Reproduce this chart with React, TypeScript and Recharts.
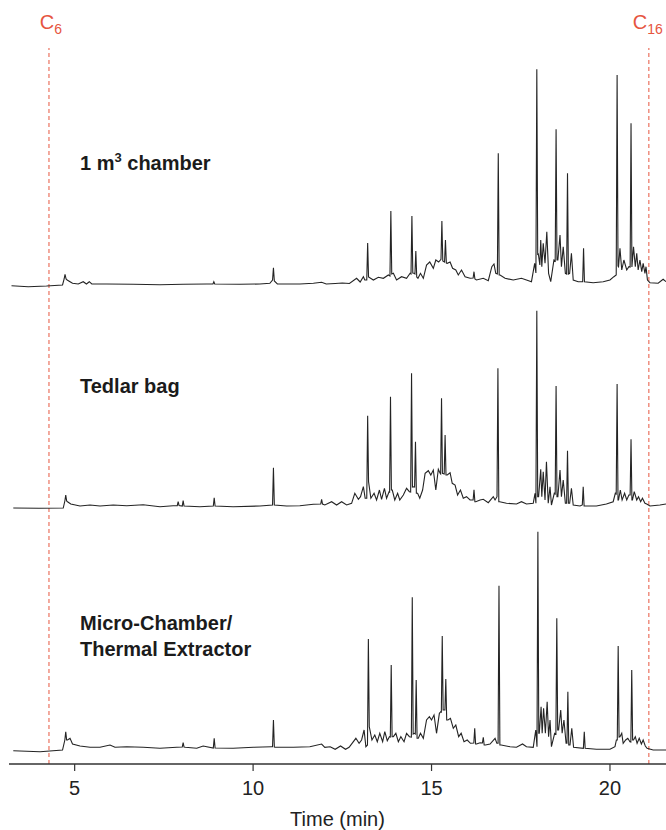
import { ComposedChart, Line, XAxis, YAxis, ReferenceLine } from 'recharts'

const FONT = "'Liberation Sans', Arial, sans-serif"
const TRACE_COLOR = '#242424'
const MARKER_RED = '#e6553f'

const timeTicks = [5, 10, 15, 20]

// retention times of the n-alkane markers (min)
const c6Time = 4.28
const c16Time = 21.09

// [time (min), detector response], one list per sampling method
const chamberTrace = [
  [3.23, -0.7], [3.7, -1.7], [4.21, -1], [4.66, 0], [4.705, 6], [4.73, 10.7], [4.76, 6], [4.79, 5],
  [4.87, 3.3], [4.94, 1.7], [5.1, 1], [5.24, 3.3], [5.33, 1], [5.41, 3.3], [5.48, 1], [5.9, 1],
  [6.64, 0.7], [7.39, 0.3], [8.04, 0.7], [8.7, 1], [8.875, 1], [8.9, 3.3], [8.925, 1], [9.63, 0.7],
  [10.19, 1], [10.47, 1.7], [10.545, 5], [10.57, 17.3], [10.595, 4], [10.68, 1], [11.31, 1],
  [11.69, 1.7], [11.92, 2.7], [12.05, 1], [12.3, 1.5], [12.5, 2], [12.7, 1.5], [12.9, 6.7], [13.0, 3],
  [13.09, 8.3], [13.13, 5], [13.185, 5], [13.21, 42], [13.235, 8], [13.37, 5], [13.51, 7.7],
  [13.65, 6.7], [13.79, 10], [13.835, 9], [13.86, 74], [13.885, 11], [13.93, 11.7], [14.02, 5],
  [14.16, 8.3], [14.3, 6.7], [14.4, 11.7], [14.425, 11], [14.45, 69], [14.475, 12], [14.51, 11.7],
  [14.535, 11], [14.56, 34], [14.585, 8], [14.62, 6.7], [14.69, 11.7], [14.77, 6.7], [14.86, 20],
  [14.95, 23], [15.05, 16.7], [15.12, 25], [15.2, 23], [15.265, 25.7], [15.29, 64], [15.315, 24],
  [15.365, 23], [15.39, 45], [15.415, 22], [15.44, 21.7], [15.52, 23], [15.59, 16.7], [15.68, 15],
  [15.75, 10], [15.84, 15], [15.94, 8.3], [16.08, 6.7], [16.165, 7], [16.19, 13.3], [16.215, 6],
  [16.26, 5], [16.45, 6.7], [16.59, 4.3], [16.69, 18.3], [16.75, 21], [16.8, 11.7], [16.845, 11],
  [16.87, 131.7], [16.895, 10], [16.92, 10], [17.06, 6.7], [17.29, 5], [17.52, 6.7], [17.66, 5],
  [17.8, 3.3], [17.89, 21.7], [17.925, 12], [17.95, 215.7], [17.975, 30], [17.99, 31.7],
  [18.035, 20], [18.06, 45], [18.09, 18.3], [18.13, 41.7], [18.18, 21.7], [18.23, 53.3],
  [18.28, 11.7], [18.34, 3.3], [18.43, 25], [18.465, 24], [18.49, 155.7], [18.515, 25], [18.54, 25],
  [18.6, 50], [18.64, 18.3], [18.69, 38.3], [18.75, 11.7], [18.785, 11], [18.81, 111.7],
  [18.835, 11], [18.87, 11.7], [18.92, 31.7], [18.97, 5], [19.11, 3.3], [19.235, 3.3], [19.26, 36.7],
  [19.285, 3.3], [19.53, 2.3], [19.81, 3.3], [20.0, 5], [20.11, 8.3], [20.175, 10], [20.2, 210],
  [20.225, 19], [20.24, 18.3], [20.28, 36.7], [20.33, 15], [20.39, 25], [20.47, 15], [20.53, 18.3],
  [20.565, 18], [20.59, 161.7], [20.615, 18], [20.66, 38.3], [20.71, 18.3], [20.75, 31.7],
  [20.79, 15], [20.84, 25], [20.89, 13.3], [20.93, 21.7], [20.98, 11.7], [21.01, 18.3], [21.05, 5],
  [21.12, 2.3], [21.35, 1.7], [21.49, 5.7], [21.57, 3.3]
]

const tedlarTrace = [
  [3.28, -1], [4.0, -1.3], [4.68, -1], [4.725, 6], [4.75, 12], [4.775, 6], [4.8, 5.3], [4.89, 3],
  [5.15, 1], [5.43, 2], [5.71, 1], [6.08, 2], [6.46, 1.3], [6.92, 2.3], [7.39, 0.3], [7.76, 1.3],
  [7.875, 1.3], [7.9, 5.3], [7.925, 1.5], [8.015, 1], [8.04, 6.3], [8.065, 1], [8.51, 0.3],
  [8.885, 1], [8.91, 9.3], [8.935, 1], [9.44, 0.3], [10.19, 1], [10.545, 2], [10.57, 39.3],
  [10.595, 2], [10.94, 1], [11.31, 1.3], [11.69, 2.7], [11.895, 3], [11.92, 7.7], [11.945, 3],
  [12.01, 2], [12.2, 5.3], [12.34, 2], [12.48, 5.3], [12.62, 2], [12.76, 3.7], [12.85, 13.7],
  [12.95, 7.7], [13.01, 10.3], [13.09, 20.3], [13.14, 8.7], [13.185, 8.7], [13.21, 91.3],
  [13.235, 25.3], [13.3, 8.7], [13.39, 13.7], [13.46, 7], [13.54, 17], [13.6, 7.7], [13.68, 18.7],
  [13.74, 8.7], [13.81, 15.3], [13.825, 15], [13.85, 110.3], [13.875, 17], [13.9, 17], [13.97, 7],
  [14.05, 13.7], [14.11, 7], [14.21, 12], [14.3, 18.7], [14.38, 15.3], [14.415, 15], [14.44, 133.7],
  [14.465, 20], [14.5, 20.3], [14.525, 20], [14.55, 65.3], [14.575, 13.7], [14.61, 13.7],
  [14.67, 8.7], [14.75, 17], [14.82, 33.7], [14.91, 36.3], [14.98, 32], [15.05, 37], [15.12, 17],
  [15.19, 37.7], [15.24, 33.7], [15.255, 33], [15.28, 108.7], [15.305, 33.7], [15.355, 33],
  [15.38, 72], [15.405, 32], [15.44, 32], [15.52, 34.3], [15.58, 23.7], [15.66, 22], [15.73, 12],
  [15.81, 17], [15.89, 8.7], [15.98, 10.3], [16.08, 7], [16.165, 7], [16.19, 17.3], [16.215, 5.3],
  [16.24, 5.3], [16.36, 7], [16.45, 7.7], [16.59, 4.3], [16.73, 10.3], [16.78, 7], [16.835, 10.3],
  [16.86, 138.7], [16.885, 5.3], [16.91, 5.3], [17.1, 3.7], [17.38, 3], [17.52, 5.3], [17.66, 3],
  [17.85, 3.7], [17.9, 13.7], [17.925, 3.7], [17.95, 196.3], [17.975, 10.3], [18.0, 10.3],
  [18.06, 37.7], [18.09, 10.3], [18.13, 35.3], [18.18, 7], [18.22, 45.3], [18.27, 3.7],
  [18.32, 20.3], [18.36, 2], [18.44, 13.7], [18.465, 13], [18.49, 121], [18.515, 10.3],
  [18.54, 10.3], [18.6, 37], [18.64, 10.3], [18.69, 27], [18.75, 3.7], [18.785, 3.7], [18.81, 56.3],
  [18.835, 3.7], [18.87, 3.7], [18.92, 18.7], [18.97, 2], [19.16, 1], [19.225, 2], [19.25, 20.3],
  [19.275, 1], [19.62, 1], [19.9, 3], [20.09, 5.3], [20.15, 13.7], [20.175, 13], [20.2, 123],
  [20.225, 7], [20.24, 7], [20.29, 17], [20.34, 7], [20.41, 13.7], [20.47, 7], [20.53, 12],
  [20.565, 12], [20.59, 67.7], [20.615, 7], [20.63, 7], [20.68, 15.3], [20.75, 7], [20.8, 10.3],
  [20.86, 5.3], [20.91, 8.7], [20.98, 3.7], [21.03, 3], [21.12, 1], [21.4, 2], [21.57, 3]
]

const microChamberTrace = [
  [3.28, -0.7], [4.03, -1.7], [4.66, 0], [4.725, 10], [4.75, 18.3], [4.775, 10], [4.8, 10],
  [4.87, 11.7], [4.94, 6], [5.15, 4], [5.43, 2.7], [5.71, 2.7], [5.99, 5], [6.13, 2.7], [6.46, 3.3],
  [6.92, 2.7], [7.39, 1.7], [7.86, 2.7], [8.015, 3], [8.04, 7.3], [8.065, 3], [8.1, 2.7], [8.42, 1.7],
  [8.6, 4], [8.885, 2], [8.91, 11.7], [8.935, 2], [9.44, 1.7], [10.01, 2.7], [10.52, 3.3],
  [10.545, 3.3], [10.57, 30], [10.595, 3], [10.62, 2.7], [11.13, 2.7], [11.59, 3.3], [11.92, 6],
  [12.01, 2.7], [12.16, 3.3], [12.3, 0.7], [12.45, 4], [12.59, 0.7], [12.69, 2.7], [12.88, 11.7],
  [12.97, 6.7], [13.04, 10], [13.11, 20], [13.16, 3.3], [13.205, 5], [13.23, 111], [13.255, 23.3],
  [13.33, 10], [13.41, 15], [13.48, 8.3], [13.55, 16.7], [13.63, 8.3], [13.69, 18.3], [13.76, 9.3],
  [13.82, 13.3], [13.845, 13], [13.87, 85], [13.895, 13.3], [13.93, 13.3], [14.0, 16.7],
  [14.07, 8.3], [14.14, 13.3], [14.23, 8.3], [14.3, 16.7], [14.38, 13.3], [14.435, 13],
  [14.46, 152.7], [14.485, 16], [14.52, 16.7], [14.545, 16], [14.57, 70], [14.595, 11.7],
  [14.63, 11.7], [14.69, 16.7], [14.77, 11.7], [14.86, 30], [14.94, 33.3], [15.0, 30], [15.07, 35],
  [15.14, 16.7], [15.22, 36.7], [15.26, 38.3], [15.275, 38], [15.3, 114], [15.325, 40],
  [15.375, 40], [15.4, 71], [15.425, 30], [15.46, 30], [15.53, 31.7], [15.61, 21.7], [15.68, 25],
  [15.76, 13.3], [15.83, 16.7], [15.91, 8.3], [16.0, 10], [16.09, 6.7], [16.185, 7], [16.21, 21.7],
  [16.235, 6], [16.26, 6], [16.36, 7.3], [16.425, 7], [16.45, 12.7], [16.475, 5], [16.51, 5],
  [16.64, 6], [16.78, 11.7], [16.83, 6.7], [16.865, 6.7], [16.89, 164.3], [16.915, 5], [16.95, 5],
  [17.2, 3.3], [17.38, 2.7], [17.55, 6], [17.66, 3.3], [17.85, 2.7], [17.92, 20], [17.955, 3.3],
  [17.98, 218.3], [18.005, 16.7], [18.02, 16.7], [18.07, 43.3], [18.1, 16.7], [18.14, 41.7],
  [18.19, 16.7], [18.24, 48.3], [18.28, 13.3], [18.32, 30], [18.36, 3.3], [18.45, 16.7],
  [18.485, 16], [18.51, 131.7], [18.535, 20], [18.56, 20], [18.62, 40], [18.66, 16.7], [18.71, 30],
  [18.77, 6.7], [18.795, 6.7], [18.82, 58.3], [18.845, 5], [18.88, 5], [18.93, 21.7], [18.98, 2.7],
  [19.255, 1.7], [19.28, 18.3], [19.305, 1.7], [19.62, 0.7], [20.0, 0.7], [20.14, 3.3], [20.18, 10],
  [20.205, 10], [20.23, 104], [20.255, 13], [20.28, 13.3], [20.33, 16.7], [20.37, 6.7], [20.44, 10],
  [20.5, 11.7], [20.56, 8.3], [20.585, 8], [20.61, 80], [20.635, 10], [20.66, 10], [20.71, 13.3],
  [20.76, 6.7], [20.82, 11.7], [20.88, 6], [20.93, 10], [20.99, 4], [21.04, 1.7], [21.21, 0],
  [21.57, 0]
]

const toPoints = (rows: number[][]) => rows.map(([t, v]) => ({ t, v }))

function carbonLabel(sub: string, dx: number) {
  return (props: any) => {
    const { x, y } = props.viewBox
    return (
      <text x={x + dx} y={y - 19} textAnchor="middle" fill={MARKER_RED} fontFamily={FONT} fontSize={20}>
        C<tspan fontSize={14} dy={5}>{sub}</tspan>
      </text>
    )
  }
}

const labelStyle: React.CSSProperties = {
  position: 'absolute',
  left: 80,
  fontFamily: FONT,
  fontWeight: 700,
  fontSize: 20,
  lineHeight: '26px',
  color: '#1b1b1b',
  whiteSpace: 'nowrap'
}

export default function App() {
  return (
    <div style={{ position: 'absolute', left: 0, top: 0, width: 666, height: 830, background: '#fff' }}>
      <ComposedChart width={666} height={830} margin={{ top: 48, right: 0, bottom: 0, left: 9 }}>
        <XAxis
          dataKey="t"
          type="number"
          domain={[3.16, 21.57]}
          allowDataOverflow
          ticks={timeTicks}
          height={66}
          tickSize={7}
          tickMargin={10}
          axisLine={{ stroke: '#333', strokeWidth: 1.5 }}
          tickLine={{ stroke: '#333', strokeWidth: 1.2 }}
          tick={{ fontSize: 20, fill: '#222', fontFamily: FONT }}
          label={{ value: 'Time (min)', position: 'insideBottom', offset: 4, fontSize: 20, fill: '#222', fontFamily: FONT }}
        />
        <YAxis yAxisId="chamber" hide domain={[-479, 237]} allowDataOverflow />
        <YAxis yAxisId="tedlar" hide domain={[-257, 459]} allowDataOverflow />
        <YAxis yAxisId="micro" hide domain={[-14, 702]} allowDataOverflow />

        <ReferenceLine yAxisId="chamber" x={c6Time} stroke={MARKER_RED} strokeDasharray="4 3" label={carbonLabel('6', 2)} />
        <ReferenceLine yAxisId="chamber" x={c16Time} stroke={MARKER_RED} strokeDasharray="4 3" label={carbonLabel('16', -1)} />

        <Line yAxisId="chamber" data={toPoints(chamberTrace)} dataKey="v" type="linear" stroke={TRACE_COLOR} strokeWidth={1.1} dot={false} activeDot={false} isAnimationActive={false} />
        <Line yAxisId="tedlar" data={toPoints(tedlarTrace)} dataKey="v" type="linear" stroke={TRACE_COLOR} strokeWidth={1.1} dot={false} activeDot={false} isAnimationActive={false} />
        <Line yAxisId="micro" data={toPoints(microChamberTrace)} dataKey="v" type="linear" stroke={TRACE_COLOR} strokeWidth={1.1} dot={false} activeDot={false} isAnimationActive={false} />
      </ComposedChart>

      <div style={{ ...labelStyle, top: 150 }}>
        1 m<sup style={{ fontSize: 13, lineHeight: 0 }}>3</sup> chamber
      </div>
      <div style={{ ...labelStyle, top: 373 }}>Tedlar bag</div>
      <div style={{ ...labelStyle, top: 610 }}>
        Micro-Chamber/
        <br />
        Thermal Extractor
      </div>
    </div>
  )
}
